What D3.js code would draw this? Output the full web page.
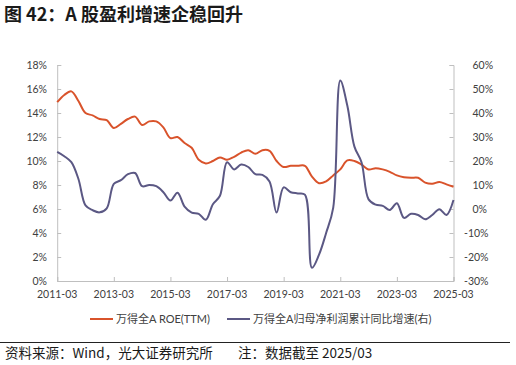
<!DOCTYPE html>
<html><head><meta charset="utf-8">
<script src="https://cdn.jsdelivr.net/npm/d3@7"></script>
<style>
html,body{margin:0;padding:0;background:#fff;}
svg{display:block;}
</style></head>
<body>
<svg id="c" width="516" height="365"></svg>
<script>
// ---- data ----
const startYear = 2011, nQuarters = 57;
const categories = [];
for (let i = 0; i < nQuarters; i++) {
  const y = startYear + Math.floor(i / 4), m = [3, 6, 9, 12][i % 4];
  categories.push(y + "-" + String(m).padStart(2, "0"));
}
const roeTTM = [14.9,15.5,15.8,15.0,14.0,13.8,13.5,13.4,12.75,13.1,13.5,13.7,13.0,13.3,13.3,12.8,
  11.9,12.0,11.5,11.1,10.1,9.8,10.0,10.3,10.1,10.35,10.7,10.9,10.6,10.9,10.85,10.0,
  9.5,9.6,9.6,9.6,8.7,8.15,8.3,8.8,9.3,10.05,10.0,9.7,9.3,9.4,9.3,9.1,
  8.8,8.65,8.6,8.6,8.2,8.1,8.25,8.05,7.85];
const profitGrowth = [23.8,22.0,19.5,12.5,1.5,-0.5,-1.4,0.3,10.5,12.0,14.5,15.0,9.5,10.0,9.5,7.0,
  3.5,6.8,1.0,-1.5,-2.0,-4.5,2.0,5.5,19.5,16.5,18.5,17.5,14.5,14.2,11.5,-1.5,
  9.0,7.0,6.5,6.0,-24.5,-19.0,-10.0,0.5,53.5,43.0,26.0,19.5,4.0,1.8,1.3,-0.4,
  2.4,-3.7,-2.0,-2.5,-4.3,-2.5,-0.1,-2.5,3.75];
const leftTicks = [0,2,4,6,8,10,12,14,16,18];
const rightTicks = [-30,-20,-10,0,10,20,30,40,50,60];
const xTickLabels = ["2011-03","2013-03","2015-03","2017-03","2019-03","2021-03","2023-03","2025-03"];
const seriesNames = ["万得全A ROE(TTM)","万得全A归母净利润累计同比增速(右)"];
const title = "图 42：A 股盈利增速企稳回升";
const sourceText = "资料来源：Wind，光大证券研究所";
const noteText = "注：数据截至 2025/03";

// ---- layout ----
const svg = d3.select("#c");
const L = 57.2, R = 453.5, T = 65, B = 281;
const x = d3.scaleLinear().domain([0, nQuarters - 1]).range([L, R]);
const yL = d3.scaleLinear().domain([0, 18]).range([B, T]);
const yR = d3.scaleLinear().domain([-30, 60]).range([B, T]);
const axisColor = "#bfbfbf", labelColor = "#404040";
const tickFont = "Lato, 'Liberation Sans', sans-serif";
const cjk = "'Noto Sans CJK SC', sans-serif";

svg.append("text").attr("x", 4).attr("y", 21)
  .attr("font-family", cjk).attr("font-weight", "bold").attr("font-size", 18)
  .attr("fill", "#1a1a1a").text(title);

// left axis
const gl = svg.append("g").attr("transform", `translate(${L},0)`)
  .call(d3.axisRight(yL).tickValues(leftTicks).tickSize(4).tickFormat(""));
gl.selectAll("path,line").attr("stroke", axisColor);
svg.append("g").selectAll("text").data(leftTicks).join("text")
  .attr("x", 47).attr("y", d => yL(d)).attr("dy", "0.35em").attr("text-anchor", "end")
  .attr("font-family", tickFont).attr("font-size", 10.5).attr("fill", labelColor)
  .text(d => d + "%");

// right axis
const gr = svg.append("g").attr("transform", `translate(${R},0)`)
  .call(d3.axisLeft(yR).tickValues(rightTicks).tickSize(4).tickFormat(""));
gr.selectAll("path,line").attr("stroke", axisColor);
svg.append("g").selectAll("text").data(rightTicks).join("text")
  .attr("x", d => d < 0 ? 464 : 472.5).attr("y", d => yR(d)).attr("dy", "0.35em")
  .attr("font-family", tickFont).attr("font-size", 10.5).attr("fill", labelColor)
  .text(d => d + "%");

// x axis
const xTickIdx = xTickLabels.map(l => categories.indexOf(l));
const gx = svg.append("g").attr("transform", `translate(0,${B})`)
  .call(d3.axisTop(x).tickValues(xTickIdx).tickSize(4).tickFormat(""));
gx.selectAll("path,line").attr("stroke", axisColor);
svg.append("g").selectAll("text").data(xTickLabels).join("text")
  .attr("x", d => x(categories.indexOf(d))).attr("y", 298).attr("text-anchor", "middle")
  .attr("font-family", tickFont).attr("font-size", 10.5).attr("fill", labelColor)
  .text(d => d);

// lines
const curve = d3.curveCatmullRom.alpha(0.5);
const colors = ["#d9532b", "#5b5884"];
svg.append("path").datum(roeTTM)
  .attr("d", d3.line().x((d, i) => x(i)).y(d => yL(d)).curve(curve))
  .attr("fill", "none").attr("stroke", colors[0]).attr("stroke-width", 2);
svg.append("path").datum(profitGrowth)
  .attr("d", d3.line().x((d, i) => x(i)).y(d => yR(d)).curve(curve))
  .attr("fill", "none").attr("stroke", colors[1]).attr("stroke-width", 2);

// legend
const legX = [90, 227], legW = 23;
seriesNames.forEach((n, i) => {
  svg.append("line").attr("x1", legX[i]).attr("x2", legX[i] + legW)
    .attr("y1", 319).attr("y2", 319).attr("stroke", colors[i]).attr("stroke-width", 2);
  svg.append("text").attr("x", legX[i] + legW + 3).attr("y", 319).attr("dy", "0.35em")
    .attr("font-family", "Lato, 'Noto Sans CJK SC', sans-serif").attr("font-size", 11)
    .attr("fill", labelColor).text(n);
});

// footer
svg.append("line").attr("x1", 0).attr("x2", 510).attr("y1", 342.5).attr("y2", 342.5)
  .attr("stroke", "#222").attr("stroke-width", 1);
svg.append("text").attr("x", 5).attr("y", 353).attr("dy", "0.35em")
  .attr("font-family", cjk).attr("font-size", 13.5).attr("fill", "#1a1a1a").text(sourceText);
svg.append("text").attr("x", 238).attr("y", 353).attr("dy", "0.35em")
  .attr("font-family", cjk).attr("font-size", 13.5).attr("fill", "#1a1a1a").text(noteText);
</script>
</body></html>
